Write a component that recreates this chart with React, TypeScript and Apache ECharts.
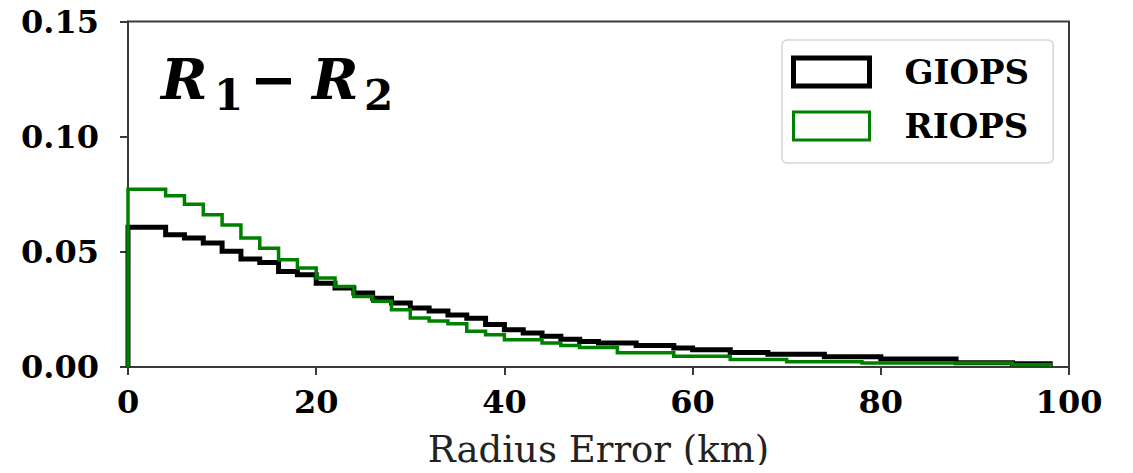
import React, { useEffect, useRef } from "react";
import * as echarts from "echarts";

// Histogram bins: width 2 km, starting at 0 km
const BIN_WIDTH = 2;
const giops = [
  0.0607, 0.0607, 0.0574, 0.056, 0.0538, 0.0502, 0.0469, 0.0454, 0.0415, 0.04,
  0.0364, 0.0343, 0.0321, 0.0299, 0.0278, 0.0256, 0.0243, 0.0226, 0.0212, 0.0184,
  0.0162, 0.0148, 0.0134, 0.012, 0.0111, 0.0104, 0.0104, 0.0093, 0.0093, 0.0082,
  0.0075, 0.0075, 0.0063, 0.0063, 0.0055, 0.0055, 0.0055, 0.0045, 0.0045, 0.0045,
  0.0035, 0.0035, 0.0035, 0.0035, 0.0018, 0.0018, 0.0018, 0.0014, 0.0014,
];
const riops = [
  0.0772, 0.0772, 0.0743, 0.0707, 0.0661, 0.0617, 0.056, 0.0516, 0.0466, 0.043,
  0.0386, 0.035, 0.0306, 0.0285, 0.0249, 0.0213, 0.02, 0.0188, 0.0155, 0.014,
  0.0118, 0.0118, 0.0104, 0.0093, 0.0085, 0.0085, 0.0062, 0.0062, 0.0062, 0.0047,
  0.0047, 0.0047, 0.0033, 0.0033, 0.0033, 0.0023, 0.0023, 0.0023, 0.0023, 0.0017,
  0.0017, 0.0017, 0.0017, 0.0017, 0.0017, 0.0017, 0.0017, 0.001, 0.001,
];
const seriesNames = ["GIOPS", "RIOPS"];
const xTicks = [0, 20, 40, 60, 80, 100];
const yTicks = [0, 0.05, 0.1, 0.15];

const FONT = "DejaVu Serif";

function stepOutline(values: number[]) {
  const pts: number[][] = [[0, 0]];
  values.forEach((v, i) => pts.push([i * BIN_WIDTH, v]));
  pts.push([values.length * BIN_WIDTH, 0]);
  return pts;
}

export default function App() {
  const ref = useRef<HTMLDivElement>(null);
  useEffect(() => {
    if (!ref.current) return;
    const chart = echarts.init(ref.current, undefined, { renderer: "svg" });
    const axisColor = "#3a3a3a";
    chart.setOption({
      animation: false,
      backgroundColor: "#fff",
      grid: {
        left: 128,
        right: 64,
        top: 21.5,
        bottom: 100.5,
        show: true,
        borderColor: axisColor,
        borderWidth: 2,
        backgroundColor: "transparent",
      },
      xAxis: {
        type: "value",
        min: xTicks[0],
        max: xTicks[xTicks.length - 1],
        interval: 20,
        name: "Radius Error (km)",
        nameLocation: "middle",
        nameGap: 64,
        nameTextStyle: { fontFamily: FONT, fontSize: 37, color: "#222" },
        axisLine: { show: true, lineStyle: { color: axisColor, width: 2 } },
        axisTick: { show: true, length: 8, lineStyle: { color: axisColor, width: 2 } },
        axisLabel: {
          fontFamily: FONT,
          fontWeight: "bold",
          fontSize: 32,
          color: "#000",
          margin: 19,
        },
        splitLine: { show: false },
      },
      yAxis: {
        type: "value",
        min: yTicks[0],
        max: yTicks[yTicks.length - 1],
        interval: 0.05,
        axisLine: { show: true, lineStyle: { color: axisColor, width: 2 } },
        axisTick: { show: true, length: 8, lineStyle: { color: axisColor, width: 2 } },
        axisLabel: {
          fontFamily: FONT,
          fontWeight: "bold",
          fontSize: 32,
          color: "#000",
          margin: 29,
          formatter: (v: number) => v.toFixed(2),
        },
        splitLine: { show: false },
      },
      legend: {
        left: 782,
        top: 40,
        orient: "vertical",
        padding: [15, 24, 20, 9],
        itemGap: 20,
        itemWidth: 76,
        itemHeight: 28,
        borderColor: "#d6d6d6",
        borderWidth: 1.5,
        borderRadius: 5,
        backgroundColor: "#fff",
        textStyle: {
          fontFamily: FONT,
          fontWeight: "bold",
          fontSize: 34,
          color: "#000",
          lineHeight: 28,
          padding: [0, 0, 0, 30],
        },
        data: [
          {
            name: seriesNames[0],
            icon: "rect",
            itemStyle: { color: "#fff", borderColor: "#000", borderWidth: 5 },
          },
          {
            name: seriesNames[1],
            icon: "rect",
            itemStyle: { color: "#fff", borderColor: "#008000", borderWidth: 3 },
          },
        ],
      },
      graphic: [
        { type: "text", left: 161, top: 51, style: { text: "R", font: `italic bold 56px ${FONT}`, fill: "#000" } },
        { type: "text", left: 214, top: 74, style: { text: "1", font: `bold 42px ${FONT}`, fill: "#000" } },
        { type: "text", left: 250, top: 51, style: { text: "\u2212", font: `bold 56px ${FONT}`, fill: "#000" } },
        { type: "text", left: 312, top: 51, style: { text: "R", font: `italic bold 56px ${FONT}`, fill: "#000" } },
        { type: "text", left: 364, top: 74, style: { text: "2", font: `bold 42px ${FONT}`, fill: "#000" } },
      ],
      series: [
        {
          name: seriesNames[0],
          type: "line",
          step: "end",
          data: stepOutline(giops),
          symbol: "none",
          lineStyle: { color: "#000", width: 5, join: "miter" },
          itemStyle: { color: "#000" },
          z: 2,
        },
        {
          name: seriesNames[1],
          type: "line",
          step: "end",
          data: stepOutline(riops),
          symbol: "none",
          lineStyle: { color: "#008000", width: 3.5, join: "miter" },
          itemStyle: { color: "#008000" },
          z: 3,
        },
      ],
    });
    return () => chart.dispose();
  }, []);
  return <div ref={ref} style={{ width: 1133, height: 473, margin: -8 }} />;
}
